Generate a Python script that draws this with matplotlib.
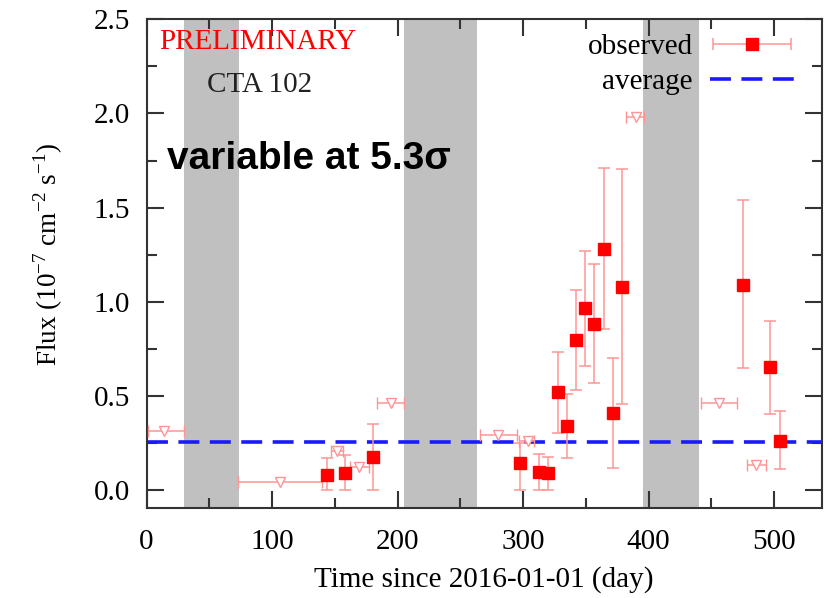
import matplotlib
matplotlib.use("Agg")
from matplotlib import pyplot as plt
from matplotlib.ticker import MultipleLocator, FormatStrFormatter
from matplotlib.legend_handler import HandlerErrorbar

# periodos sin observacion (sombreado gris)
bandas = [(30, 74), (205, 263), (396, 440)]

# detecciones (cuadrados rojos)
obs_t = [143.7, 158.3, 180.1, 297.8, 312.5, 320.0, 327.6, 334.8, 342.0, 349.4,
         356.9, 364.3, 371.5, 379.2, 474.9, 497.0, 504.4]
obs_f = [0.081, 0.093, 0.175, 0.143, 0.098, 0.089, 0.519, 0.343, 0.797, 0.965,
         0.884, 1.281, 0.409, 1.079, 1.090, 0.652, 0.263]
obs_lo = [0.000, 0.000, 0.000, 0.000, 0.000, 0.000, 0.304, 0.169, 0.529, 0.659,
          0.570, 0.854, 0.118, 0.455, 0.646, 0.405, 0.113]
obs_hi = [0.171, 0.189, 0.352, 0.249, 0.193, 0.175, 0.731, 0.512, 1.065, 1.272,
          1.201, 1.710, 0.700, 1.703, 1.538, 0.898, 0.419]

# limites superiores (triangulos) con su intervalo de tiempo
ul_t = [14.2, 106.4, 151.7, 169.5, 194.7, 279.8, 303.7, 389.8, 456.3, 486.0]
ul_ini = [1.4, 73.2, 146.9, 162.3, 183.6, 265.4, 296.5, 382.1, 442.0, 478.6]
ul_fin = [29.9, 139.7, 156.5, 176.9, 204.8, 295.2, 308.5, 396.7, 470.7, 493.7]
ul_f = [0.316, 0.041, 0.206, 0.125, 0.462, 0.293, 0.263, 1.980, 0.464, 0.134]

promedio = 0.256

plt.rcParams['font.family'] = ['Liberation Serif', 'DejaVu Serif']
plt.rcParams['mathtext.fontset'] = 'custom'
plt.rcParams['mathtext.rm'] = 'Liberation Serif'

fig = plt.figure(figsize=(8.25, 5.98), dpi=100)
ax = fig.add_axes([0.1776, 0.1505, 0.8184, 0.8172])

rojo_claro = '#ff9494'

for a, b in bandas:
    ax.axvspan(a, b, color='#c0c0c0', lw=0, zorder=0)

ax.axhline(promedio, color='#1a1aff', lw=2.6, ls=(0, (5.8, 2.9)), zorder=2)

err_abajo = [f - lo for f, lo in zip(obs_f, obs_lo)]
err_arriba = [hi - f for f, hi in zip(obs_f, obs_hi)]
ax.errorbar(obs_t, obs_f, yerr=[err_abajo, err_arriba], fmt='s', color='red',
            ms=8, ecolor=rojo_claro, elinewidth=1.1, capsize=4, capthick=1.1, zorder=3)

xe_izq = [t - a for t, a in zip(ul_t, ul_ini)]
xe_der = [b - t for t, b in zip(ul_t, ul_fin)]
ax.errorbar(ul_t, ul_f, xerr=[xe_izq, xe_der], fmt='v', mfc='white', mec=rojo_claro,
            ms=6.5, mew=1.0, ecolor=rojo_claro, elinewidth=1.1, capsize=4, capthick=1.1, zorder=3)

# entradas de la leyenda (fuera del rango visible)
h_obs = ax.errorbar([-50], [-1], xerr=[1], fmt='s', color='red', ms=8, ecolor=rojo_claro,
                    elinewidth=1.1, capsize=4, capthick=1.1)
h_avg, = ax.plot([], [], color='#1a1aff', lw=2.6, ls=(0, (5.8, 2.9)))
ax.legend([h_obs, h_avg], ['observed', 'average'], loc='upper right', frameon=False,
          markerfirst=False, fontsize=21, handlelength=2.85, labelspacing=0.3,
          handletextpad=0.6, borderaxespad=0.1, bbox_to_anchor=(0.98, 1.0),
          handler_map={type(h_obs): HandlerErrorbar(xerr_size=1.35)})

ax.set_xlim(0, 538)
ax.set_ylim(-0.095, 2.5)
ax.xaxis.set_major_locator(MultipleLocator(100))
ax.xaxis.set_minor_locator(MultipleLocator(50))
ax.yaxis.set_major_locator(MultipleLocator(0.5))
ax.yaxis.set_minor_locator(MultipleLocator(0.25))
ax.yaxis.set_major_formatter(FormatStrFormatter('%.1f'))
ax.tick_params(which='both', direction='in', top=True, right=True, color='#333333',
               labelsize=21, width=1.5)
ax.tick_params(which='major', length=12)
ax.tick_params(which='minor', length=7)
ax.tick_params(axis='x', pad=15)
ax.tick_params(axis='y', pad=12)
for s in ax.spines.values():
    s.set_color('#333333')
    s.set_linewidth(1.5)

ax.set_xlabel('Time since 2016-01-01 (day)', fontsize=21, labelpad=8)
ax.set_ylabel(r'Flux (10$^{\mathrm{-7}}$ cm$^{\mathrm{-2}}$ s$^{\mathrm{-1}}$)', fontsize=19.5)
ax.yaxis.set_label_coords(-0.12, 0.52)

ax.text(10, 2.38, 'PRELIMINARY', color='red', fontsize=21, va='center')
ax.text(48, 2.15, 'CTA 102', color='#222222', fontsize=21, va='center')
ax.text(16, 1.76, 'variable at 5.3σ', fontsize=28, fontweight='bold', va='center',
        family=['Liberation Sans', 'DejaVu Sans'])

fig.savefig('out.png', dpi=100)
